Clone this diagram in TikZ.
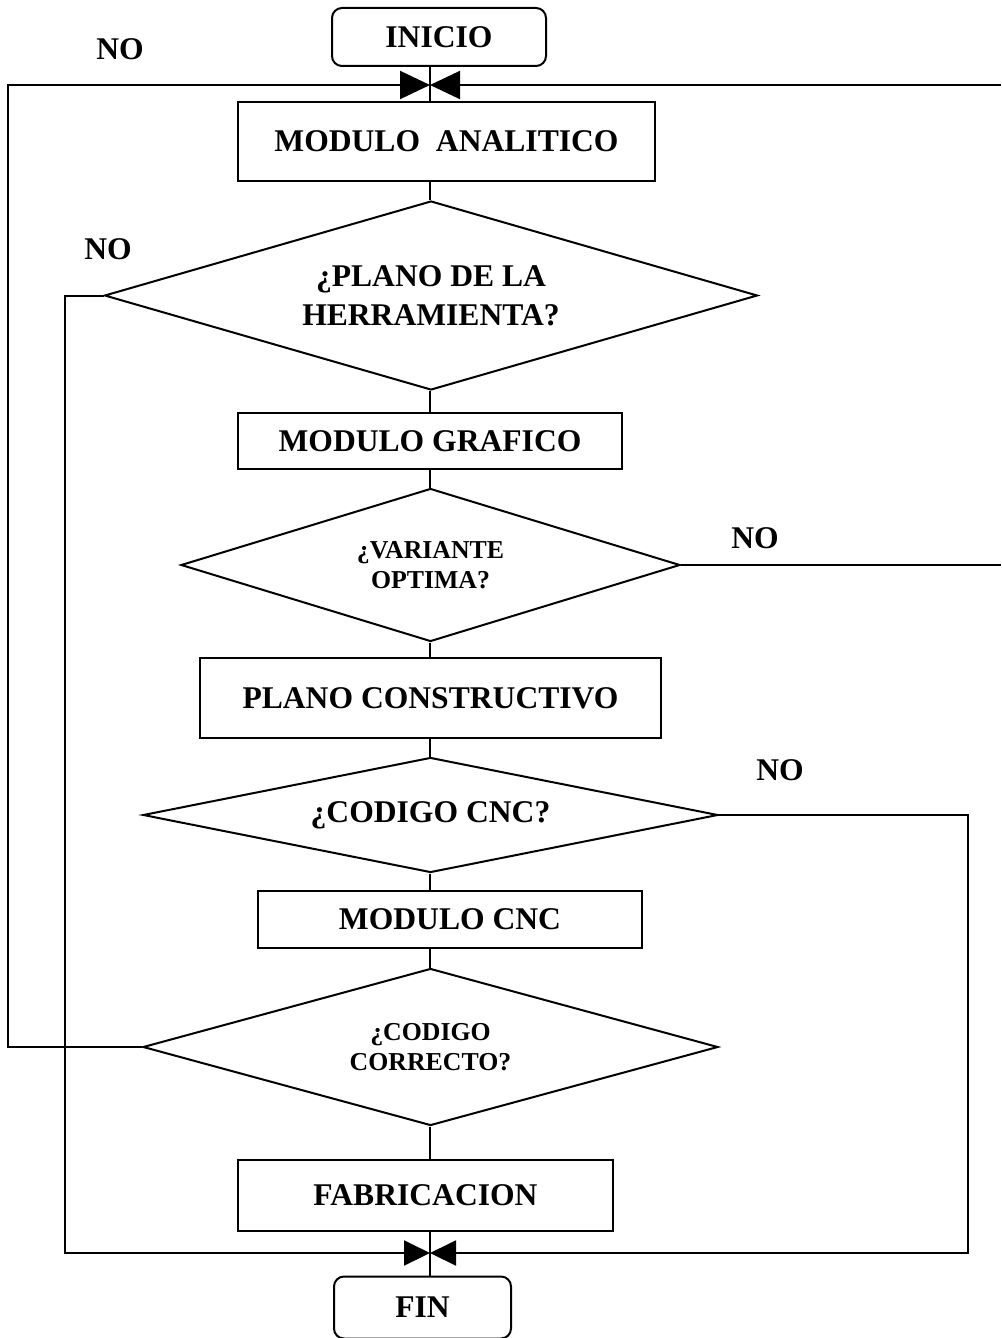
\documentclass[tikz,border=0pt]{standalone}
\usepackage{fontspec}
\setmainfont{Liberation Serif}
\usetikzlibrary{shapes.geometric,arrows.meta}

\begin{document}
\begin{tikzpicture}[x=0.5pt,y=-0.5pt,line width=1pt,
    big/.style={font=\fontsize{15.8}{19.5}\selectfont\bfseries},
    small/.style={font=\fontsize{12.9}{15}\selectfont\bfseries},
    proc/.style={draw,big,inner sep=0pt},
    term/.style={proc,rounded corners=5pt},
    test/.style={draw,diamond,aspect=3,inner sep=0pt,align=center},
    tiptop/.style={-{Triangle[length=15pt,width=14pt]}},
    tipbot/.style={-{Triangle[length=13pt,width=12.5pt]}}]
    \useasboundingbox (0,0) rectangle (1001,1338);
    % boxes and tests
    \node[term,minimum width=107pt,minimum height=29pt] (inicio) at (439,37) {INICIO};
    \node[proc,minimum width=208.5pt,minimum height=39.5pt] (analitico) at (446.5,141.5) {MODULO\ \ ANALITICO};
    \node[test,big,minimum width=326.5pt,minimum height=94.5pt] (plano) at (431,295.5) {¿PLANO DE LA\\HERRAMIENTA?};
    \node[proc,minimum width=192pt,minimum height=28pt] (grafico) at (430,441) {MODULO GRAFICO};
    \node[test,small,minimum width=249.5pt,minimum height=76.5pt] (variante) at (430.5,565) {¿VARIANTE\\OPTIMA?};
    \node[proc,minimum width=230.5pt,minimum height=40pt] (constructivo) at (430.5,698) {PLANO CONSTRUCTIVO};
    \node[test,big,minimum width=287.5pt,minimum height=57.5pt] (cnc) at (430.5,815) {¿CODIGO CNC?};
    \node[proc,minimum width=192pt,minimum height=28.5pt] (modcnc) at (450,919.5) {MODULO CNC};
    \node[test,small,minimum width=287.5pt,minimum height=78.5pt] (correcto) at (430.5,1047) {¿CODIGO\\CORRECTO?};
    \node[proc,minimum width=187.5pt,minimum height=35.5pt] (fab) at (425.5,1195.5) {FABRICACION};
    \node[term,minimum width=88.5pt,minimum height=31pt] (fin) at (422.5,1307.5) {FIN};
    % NO labels
    \node[big] (no1) at (120,49) {NO};
    \node[big] (no2) at (108,249) {NO};
    \node[big] (no3) at (755,538) {NO};
    \node[big] (no4) at (780,770) {NO};
    % junctions
    \coordinate (top) at (430,85);
    \coordinate (bot) at (430,1253);
    \coordinate (lefta) at (8,85);
    \coordinate (leftb) at (65,1253);
    \coordinate (righta) at (1001,85);
    \coordinate (rightc) at (968,1253);
    % main flow
    \foreach \a/\b in {inicio/analitico,analitico/plano,plano/grafico,grafico/variante,
        variante/constructivo,constructivo/cnc,cnc/modcnc,modcnc/correcto,correcto/fab,fab/fin}
      \draw (top |- \a.south) -- (top |- \b.north);
    % returns
    \draw[tiptop] (correcto.west) -| (lefta) -- (top);
    \draw[tiptop] (righta) -- (top);
    \draw (variante.east) -- (variante.east -| righta);
    \draw[tipbot] (plano.west) -| (leftb) -- (bot);
    \draw[tipbot] (cnc.east) -| (rightc) -- (bot);
\end{tikzpicture}
\end{document}
